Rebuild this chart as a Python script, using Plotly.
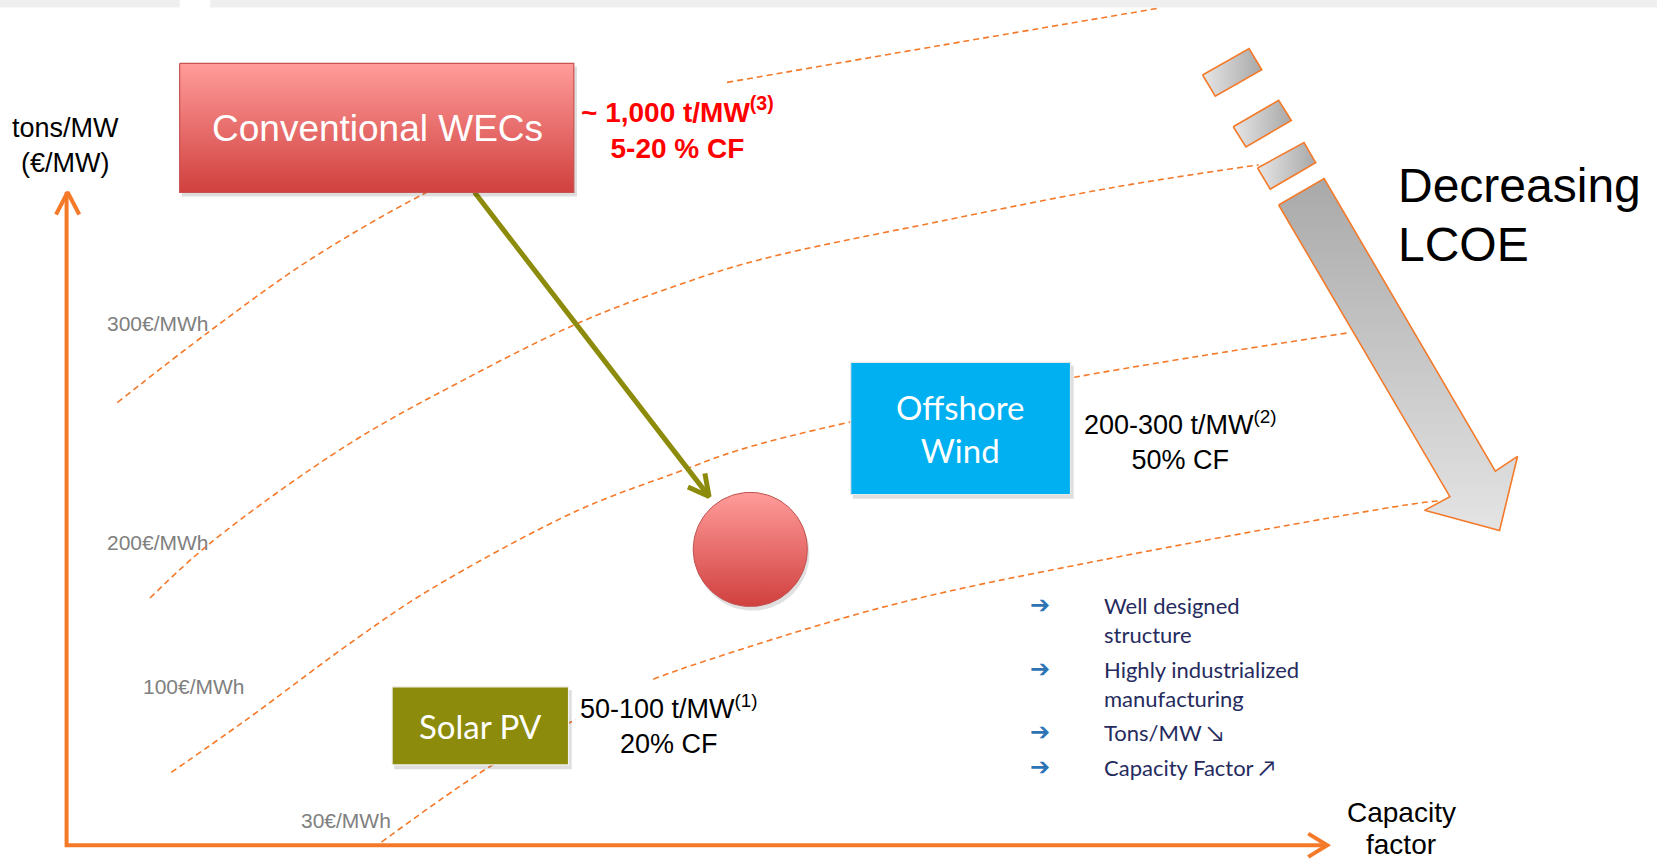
import numpy as np
import plotly.graph_objects as go

# ---------------- data ----------------
technologies = ["Conventional WECs", "Offshore<br>Wind", "Solar PV"]
tech_tons = ["~ 1,000 t/MW<sup>(3)</sup>", "200-300 t/MW<sup>(2)</sup>", "50-100 t/MW<sup>(1)</sup>"]
tech_cf = ["5-20 % CF", "50% CF", "20% CF"]
lcoe_labels = ["300€/MWh", "200€/MWh", "100€/MWh", "30€/MWh"]
bullets = ["Well designed<br>structure", "Highly industrialized<br>manufacturing",
           "Tons/MW ↘", "Capacity Factor ↗"]

# iso-LCOE curves (drawing units: capacity factor -> tons/MW plane)
lcoe300_x = [111, 199, 293, 402, 475, 545, None, 688, 890, 1095]
lcoe300_y = [381, 313, 246, 183, 150, 118, None, 78, 43, 8]
lcoe200_x = [142, 199, 329, 438, 549, 641, 718, 887, 1056, 1191]
lcoe200_y = [566, 514, 421, 360, 305, 270, 246, 210, 177, 156]
lcoe100_x = [162, 232, 338, 407, 547, 641, 699, 802, 1017, 1276]
lcoe100_y = [731, 682, 604, 558, 483, 447, 426, 400, 357, 315]
lcoe30_x = [361, 466, 545, None, 618, 648, 838, 1043, 1330, 1362]
lcoe30_y = [797, 724, 681, None, 643, 632, 574, 530, 478, 474]

# ---------------- styles ----------------
W, H = 1568, 813          # drawing units
ORANGE = "#F47A2A"
OLIVE = "#8C8B0B"
ARIAL = "Liberation Sans, Arial, sans-serif"
CALIBRI = "Lato, Carlito, sans-serif"

fig = go.Figure()


def poly(xs, ys, fill=None, line_color=None, line_width=0, grad=None, opacity=1.0):
    xs = list(xs) + [xs[0]]
    ys = list(ys) + [ys[0]]
    kw = dict(x=xs, y=ys, mode="lines", fill="toself", hoverinfo="skip",
              opacity=opacity,
              line=dict(color=line_color or "rgba(0,0,0,0)", width=line_width))
    if grad is not None:
        kw["fillgradient"] = grad
    else:
        kw["fillcolor"] = fill
    fig.add_trace(go.Scatter(**kw))


def line(xs, ys, color, width, dash=None, shape="linear"):
    fig.add_trace(go.Scatter(x=xs, y=ys, mode="lines", hoverinfo="skip",
                             connectgaps=False,
                             line=dict(color=color, width=width, dash=dash, shape=shape)))


# top grey strip
poly([0, 170, 170, 0], [0, 0, 7, 7], fill="#EFEFEF")
poly([199, W, W, 199], [0, 0, 7, 7], fill="#EFEFEF")

# iso-LCOE dashed curves
for cx, cy in [(lcoe300_x, lcoe300_y), (lcoe200_x, lcoe200_y),
               (lcoe100_x, lcoe100_y), (lcoe30_x, lcoe30_y)]:
    line(cx, cy, ORANGE, 1.6, dash="6px,4px", shape="spline")

# axes
line([63, 63, 1254], [182, 800, 800], ORANGE, 4)
line([53, 64, 75], [203, 182, 203], ORANGE, 4)
line([1238, 1256, 1238], [789, 800, 811], ORANGE, 4)

# olive arrow
line([449, 668], [182, 466], OLIVE, 5)
line([651, 671, 667], [461, 470, 448], OLIVE, 5)

# circle
theta = np.linspace(0, 2 * np.pi, 120)
ccx, ccy, cr = 710, 520, 54
poly(ccx + 2 + cr * np.cos(theta), ccy + 4 + cr * np.sin(theta), fill="rgba(0,0,0,0.12)")
poly(ccx + cr * np.cos(theta), ccy + cr * np.sin(theta), line_color="#C0504D", line_width=1,
     grad=dict(type="vertical", start=ccy - cr, stop=ccy + cr,
               colorscale=[[0, "#FF9C9A"], [1, "#D0403E"]]))

# boxes with shadows
boxes = [
    (170, 543, 60, 182, dict(type="vertical", start=60, stop=182,
                             colorscale=[[0, "#FF9C9A"], [1, "#D0403E"]]), None, "#C85250"),
    (805, 1013, 343, 468, None, "#00B0F0", "#E8E8E8"),
    (371, 538, 650, 724, None, "#8C8B0B", "#F2F2F2"),
]
for x0, x1, y0, y1, grad, col, lc in boxes:
    poly([x0 + 2, x1 + 3, x1 + 3, x0 + 2], [y0 + 3, y0 + 3, y1 + 4, y1 + 4], fill="rgba(0,0,0,0.13)")
    poly([x0, x1, x1, x0], [y0, y0, y1, y1], fill=col, grad=grad, line_color=lc, line_width=1.2)

# big "decreasing LCOE" arrow
poly([1210, 1253, 1415, 1436, 1419, 1348, 1372], [194, 169, 446, 432, 502, 483, 470],
     line_color=ORANGE, line_width=1.6,
     grad=dict(type="vertical", start=169, stop=502,
               colorscale=[[0, "#A9A9A9"], [1, "#E4E4E4"]]))
bars = [
    ([1138, 1182, 1194, 1150], [71, 46, 66, 91]),
    ([1167, 1210, 1222, 1179], [120, 95, 114, 139]),
    ([1190, 1234, 1245, 1202], [159, 135, 154, 179]),
]
for bx, by in bars:
    poly(bx, by, line_color=ORANGE, line_width=1.6,
         grad=dict(type="horizontal", start=min(bx), stop=max(bx),
                   colorscale=[[0, "#E6E6E6"], [1, "#A8A8A8"]]))

# ---------------- text ----------------
ann = []


def text(x, y, s, size, color="#000000", family=ARIAL, xanchor="center", align="center"):
    ann.append(dict(x=x, y=y, xref="x", yref="y", text=s, showarrow=False,
                    xanchor=xanchor, yanchor="middle", align=align,
                    font=dict(size=size, color=color, family=family)))


text(62, 138, "tons/MW<br>(€/MW)", 27)
text(1326, 769, "Capacity", 28)
text(1326, 799, "factor", 28)

text(357, 122, technologies[0], 37, "#FFFFFF")
text(908, 406, technologies[1], 33, "#FFFFFF", CALIBRI)
text(455, 687, technologies[2], 33, "#FFFFFF", CALIBRI)

text(641, 121, "<b>" + tech_tons[0] + "<br>" + tech_cf[0] + "</b>", 28, "#FF0000")
text(1117, 417, tech_tons[1] + "<br>" + tech_cf[1], 27)
text(633, 686, tech_tons[2] + "<br>" + tech_cf[2], 27)

text(1321, 176, "Decreasing", 48, xanchor="left")
text(1321, 231, "LCOE", 48, xanchor="left")

GREY = "#808080"
for (lx, ly), lab in zip([(99, 306), (99, 513), (133, 650), (283, 777)], lcoe_labels):
    text(lx, ly, lab, 21, GREY, xanchor="left")

NAVY = "#262B5E"
BLUE = "#2E74B5"
bullet_y = [587, 647, 693, 726]
for by, b in zip(bullet_y, bullets):
    text(1043, by, b, 22, NAVY, CALIBRI, xanchor="left", align="left")
for by in [573, 633, 693, 726]:
    text(984, by, "<b>➔</b>", 24, BLUE, "DejaVu Sans")

fig.update_layout(
    width=1657, height=859,
    margin=dict(l=0, r=0, t=0, b=0),
    paper_bgcolor="white", plot_bgcolor="white",
    showlegend=False,
    xaxis=dict(range=[0, W], visible=False, fixedrange=True),
    yaxis=dict(range=[H, 0], visible=False, fixedrange=True),
    annotations=ann,
)

fig.write_html("out.html", config={"displayModeBar": False},
               post_script="document.body.style.margin='0';document.body.style.overflow='hidden';")
